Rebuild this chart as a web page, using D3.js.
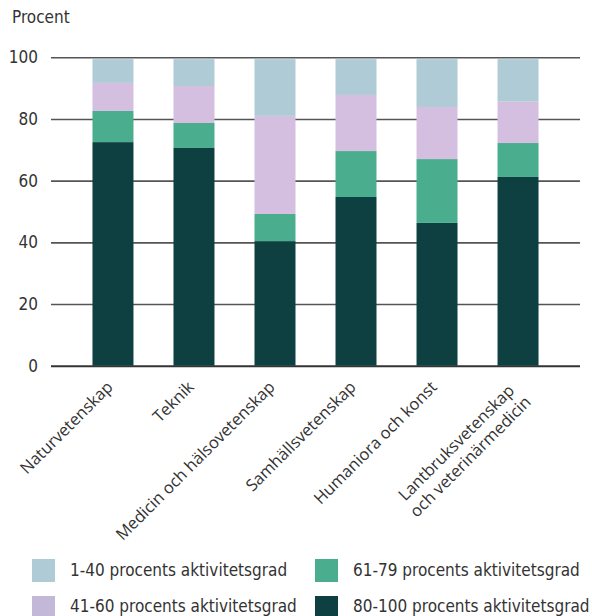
<!DOCTYPE html>
<html><head><meta charset="utf-8">
<script src="https://cdn.jsdelivr.net/npm/d3@7"></script>
<style>body{margin:0;background:#fff}svg{display:block}</style>
</head><body>
<svg id="c" width="592" height="616"></svg>
<script>
const categories = ["Naturvetenskap","Teknik","Medicin och hälsovetenskap","Samhällsvetenskap","Humaniora och konst","Lantbruksvetenskap\noch veterinärmedicin"];
const seriesNames = ["80-100 procents aktivitetsgrad","61-79 procents aktivitetsgrad","41-60 procents aktivitetsgrad","1-40 procents aktivitetsgrad"];
const s80_100 = [72.5, 70.6, 40.4, 54.7, 46.3, 61.2];
const s61_79  = [10.1,  8.1,  8.8, 14.9, 20.7, 11.0];
const s41_60  = [ 9.1, 12.0, 31.8, 18.2, 16.9, 13.4];
const s1_40   = [ 7.7,  8.7, 18.4, 11.6, 15.5, 13.8];
const yTicks = [0,20,40,60,80,100];
const yLabel = "Procent";
const colors = {"80-100 procents aktivitetsgrad":"#0e4042","61-79 procents aktivitetsgrad":"#4aad8d","41-60 procents aktivitetsgrad":"#d4bfe1","1-40 procents aktivitetsgrad":"#afcbd5"};
const legendColors = {"1-40 procents aktivitetsgrad":"#afcbd5","41-60 procents aktivitetsgrad":"#c3b8d8","61-79 procents aktivitetsgrad":"#4aad8d","80-100 procents aktivitetsgrad":"#0e4042"};
const legendOrder = ["1-40 procents aktivitetsgrad","61-79 procents aktivitetsgrad","41-60 procents aktivitetsgrad","80-100 procents aktivitetsgrad"];

const seriesVals = [s80_100, s61_79, s41_60, s1_40];
const rows = categories.map((c,i)=>{const r={cat:c}; seriesNames.forEach((s,k)=>r[s]=seriesVals[k][i]); return r;});
const stack = d3.stack().keys(seriesNames)(rows);

const svg = d3.select("#c");
const numFont = "'DejaVu Sans Condensed','DejaVu Sans',sans-serif";
const textCol = "#333";

const x = d3.scaleBand().domain(categories).range([51,580]).paddingInner(0.494).paddingOuter(0.512);
const y = d3.scaleLinear().domain([0,100]).range([365.7,57.3]);

// gridlines
const yAxis = d3.axisLeft(y).tickValues(yTicks).tickSize(-(580-51)).tickPadding(13);
const ga = svg.append("g").attr("transform","translate(51,0)").call(yAxis);
ga.select(".domain").remove();
ga.selectAll(".tick line").attr("stroke",d=>d===0?"#333":"#555").attr("stroke-width",d=>d===0?2:1.6);
ga.selectAll(".tick text").attr("font-family",numFont).attr("font-size",17).attr("fill",textCol);

svg.append("text").attr("x",12).attr("y",23).attr("font-family",numFont).attr("font-size",17).attr("fill",textCol).text(yLabel);

// bars
svg.append("g").selectAll("g").data(stack).join("g")
  .attr("fill",d=>colors[d.key])
  .selectAll("rect").data(d=>d).join("rect")
  .attr("x",d=>x(d.data.cat)).attr("width",x.bandwidth())
  .attr("y",d=>y(d[1])).attr("height",d=>y(d[0])-y(d[1]));

// category labels
const lab = svg.append("g").selectAll("text").data(categories).join("text")
  .attr("transform",d=>`translate(${x(d)+x.bandwidth()/2+1},388) rotate(-45)`)
  .attr("font-family","'Open Sans',sans-serif").attr("font-size",16.5).attr("fill",textCol)
  .attr("text-anchor","end");
lab.each(function(d){
  const t=d3.select(this); const lines=d.split("\n");
  if(lines.length===1){ t.text(d); return; }
  t.attr("text-anchor","middle");
  const t1=t.append("tspan").attr("x",0).attr("dy",0).text(lines[0]);
  const w=t1.node().getComputedTextLength();
  t1.attr("x",-w/2-5);
  t.append("tspan").attr("x",-w/2-5).attr("dy","1.2em").text(lines[1]);
});

// legend
const lg = svg.append("g").selectAll("g").data(legendOrder).join("g")
  .attr("transform",(d,i)=>`translate(${i%2===0?32:315},${i<2?559:596})`);
lg.append("rect").attr("width",23).attr("height",23).attr("fill",d=>legendColors[d]);
lg.append("text").attr("x",38).attr("y",(d,i)=>i<2?17:16).attr("font-family",numFont).attr("font-size",17).attr("fill",textCol).text(d=>d);
</script>
</body></html>
